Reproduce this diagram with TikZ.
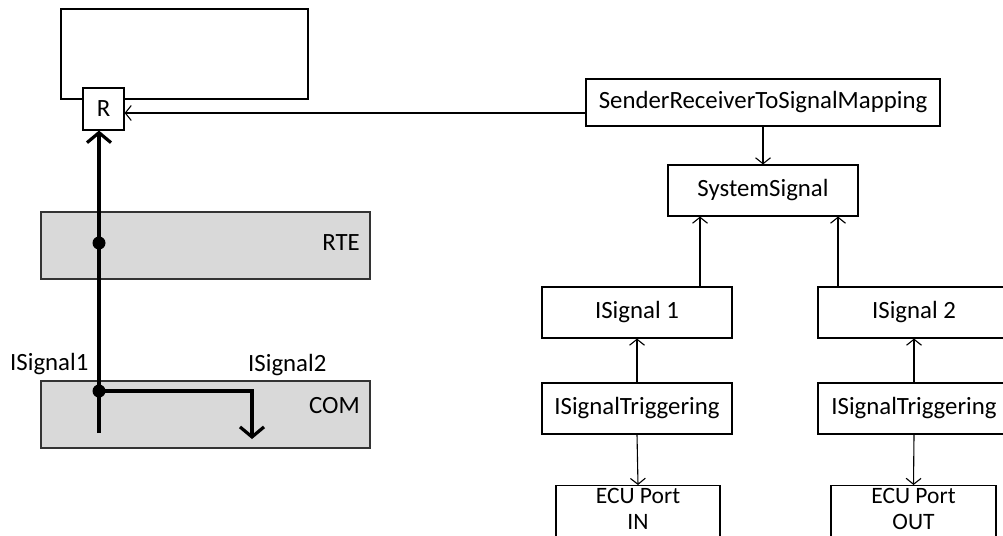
\documentclass[tikz,border=0pt]{standalone}
\usepackage{fontspec}
\setmainfont{Carlito}
\usetikzlibrary{arrows.meta}
\definecolor{boxgray}{RGB}{217,217,217}
\begin{document}
\begin{tikzpicture}[x=1pt,y=-1pt,
  box/.style={draw=black,line width=1.1pt,fill=white,inner sep=0pt,font=\fontsize{24.8}{27}\selectfont},
  layer/.style={draw=black!80,line width=1.1pt,fill=boxgray},
  tarr/.style={line width=1.1pt,-{Straight Barb[length=6pt,width=15pt,line width=1.1pt]}},
  barr/.style={line width=3.2pt,-{Straight Barb[length=10pt,width=24pt,line width=3.2pt]}},
  lbl/.style={inner sep=0pt,font=\fontsize{24.8}{27}\selectfont},
  ecutxt/.style={inner sep=0pt,align=center,font=\fontsize{23.5}{25.5}\selectfont},
  dot/.style={circle,fill=black,inner sep=0pt,minimum size=13pt}]
\useasboundingbox (0,0) rectangle (1003,535);
\clip (0,0) rectangle (1003,535);
% left part
\node[draw=black,line width=1.2pt,minimum width=247pt,minimum height=90pt,inner sep=0pt] (comp) at (184.5,54) {};
\node[box,minimum width=41pt,minimum height=42pt] (R) at (103.5,109) {R};
\node[layer,minimum width=329pt,minimum height=67pt,inner sep=0pt] (rte) at (205.5,245.5) {};
\node[layer,minimum width=329pt,minimum height=67pt,inner sep=0pt] (com) at (205.5,414.5) {};
\node[lbl,anchor=east] (rtel) at (360,243) {RTE};
\node[lbl,anchor=east] (coml) at (360,406) {COM};
\node[lbl,anchor=west] (s1l) at (10,364) {ISignal1};
\node[lbl,anchor=west] (s2l) at (248,365) {ISignal2};
\coordinate (start) at (99,433);
\node[dot] (d1) at (99,243) {};
\node[dot] (d2) at (99,391) {};
\coordinate (bend) at (252,391);
\coordinate (end2) at (252,439);
\draw[line width=3.2pt] (start) -- (d2.center);
\draw[barr] (d2.center) -- (R.south -| d2);
\draw[barr] (d2.center) -- (bend) -- (end2);
% right part
\node[box,minimum width=354pt,minimum height=47pt] (srt) at (763,102.5) {SenderReceiverToSignalMapping};
\node[box,minimum width=190pt,minimum height=51pt] (sys) at (763,190.5) {SystemSignal};
\node[box,minimum width=190pt,minimum height=51pt] (is1) at (637,312.5) {ISignal 1};
\node[box,minimum width=192pt,minimum height=51pt] (is2) at (914,312.5) {ISignal 2};
\node[box,minimum width=190pt,minimum height=51pt] (tr1) at (637,408.5) {ISignalTriggering};
\node[box,minimum width=192pt,minimum height=51pt] (tr2) at (914,408.5) {ISignalTriggering};
\node[box,minimum width=164pt,minimum height=70pt,anchor=north] (ecu1) at (638,485) {};
\node[box,minimum width=165pt,minimum height=70pt,anchor=north] (ecu2) at (913.5,485) {};
\node[ecutxt] (ecu1t) at (638,509) {ECU Port\\IN};
\node[ecutxt] (ecu2t) at (913.5,509) {ECU Port\\OUT};
\draw[tarr] (srt.west |- 0,113) -- (R.east |- 0,113);
\draw[tarr] (srt.south) -- (sys.north);
\draw[tarr] (is1.north -| 700,0) -- (sys.south -| 700,0);
\draw[tarr] (is2.north -| 838,0) -- (sys.south -| 838,0);
\draw[tarr] (tr1.north) -- (is1.south);
\draw[tarr] (tr2.north) -- (is2.south);
\draw[tarr] (tr1.south) -- (ecu1.north);
\draw[tarr] (tr2.south) -- (ecu2.north);
\end{tikzpicture}
\end{document}
